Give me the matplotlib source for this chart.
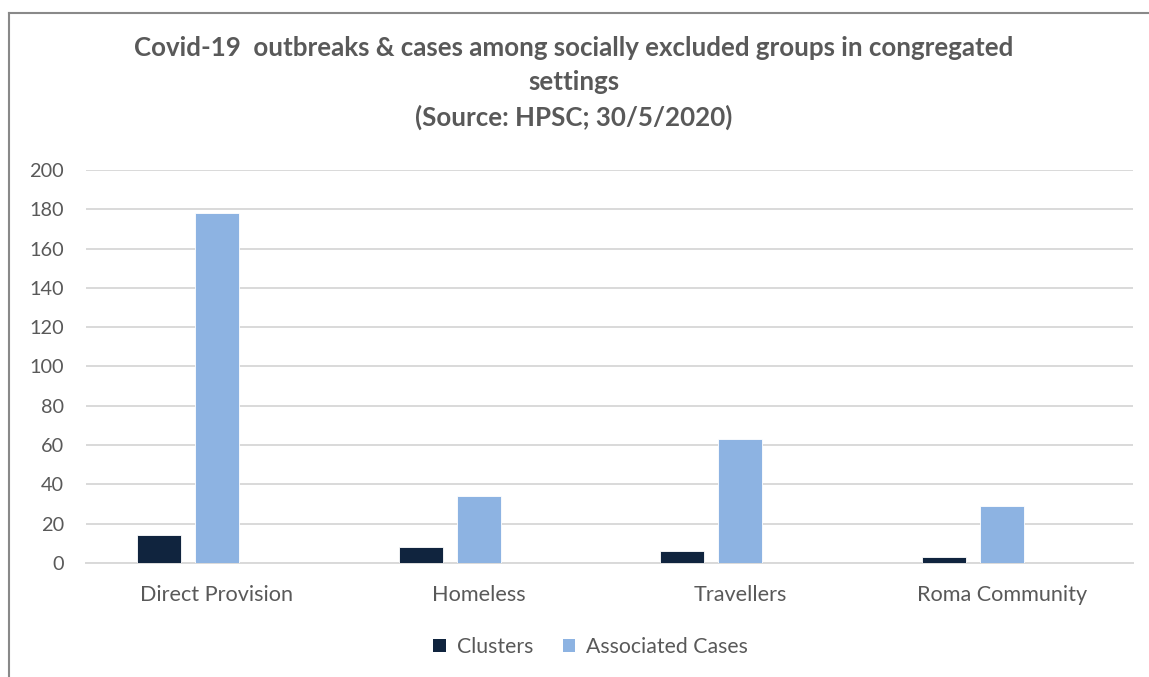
import matplotlib.pyplot as plt
import numpy as np
from matplotlib.lines import Line2D
from matplotlib.patches import Patch

categories = ["Direct Provision", "Homeless", "Travellers", "Roma Community"]
clusters = [14, 8, 6, 3]
associated_cases = [178, 34, 63, 29]
y_ticks = [0, 20, 40, 60, 80, 100, 120, 140, 160, 180, 200]

TEXT = "#595959"
GRID = "#d9d9d9"
DARK = "#10243E"
LIGHT = "#8DB3E2"

plt.rcParams["font.family"] = ["Lato", "DejaVu Sans"]

fig = plt.figure(figsize=(11.49, 6.77), dpi=100)
ax = fig.add_axes([0.0748, 0.1684, 0.9113, 0.5805])

x = np.arange(len(categories))
width = 0.168
step = 0.2216
# third (empty) slot in each group keeps the cases bar on the category centre
ax.bar(x - step, clusters, width, color=DARK, edgecolor="white", linewidth=0.6, zorder=3)
ax.bar(x, associated_cases, width, color=LIGHT, edgecolor="white", linewidth=0.6, zorder=3)

ax.set_xlim(-0.5, len(categories) - 0.5)
ax.set_ylim(0, 200)
ax.set_yticks(y_ticks)
ax.set_yticklabels([str(v) for v in y_ticks], color=TEXT, fontsize=14.3)
ax.set_xticks(x)
ax.set_xticklabels(categories, color=TEXT, fontsize=15.6)
ax.tick_params(axis="both", length=0)
ax.tick_params(axis="y", pad=16)
ax.tick_params(axis="x", pad=16)
ax.grid(axis="y", color=GRID, linewidth=1.4, zorder=0)
for side in ["top", "right", "left"]:
    ax.spines[side].set_visible(False)
ax.spines["bottom"].set_color(GRID)
ax.spines["bottom"].set_linewidth(1.4)

fig.text(0.4996, 0.878, "Covid-19  outbreaks & cases among socially excluded groups in congregated\nsettings\n(Source: HPSC; 30/5/2020)",
         ha="center", va="center", fontsize=18.6, fontweight="bold", color=TEXT, linespacing=1.5)

handles = [Patch(facecolor=DARK), Patch(facecolor=LIGHT)]
fig.legend(handles, ["Clusters", "Associated Cases"], loc="center", bbox_to_anchor=(0.514, 0.044),
           ncol=2, frameon=False, fontsize=15.3, labelcolor=TEXT, handlelength=0.6, handleheight=0.6,
           handletextpad=0.5, columnspacing=1.4)

# outer chart frame
fig.add_artist(Line2D([0.0078, 1.0], [1 - 13 / 677, 1 - 13 / 677], transform=fig.transFigure, color="#898989", linewidth=1.5))
fig.add_artist(Line2D([0.0078, 0.0078], [0.0, 1 - 13 / 677], transform=fig.transFigure, color="#898989", linewidth=1.5))

fig.savefig("out.png", dpi=100)
